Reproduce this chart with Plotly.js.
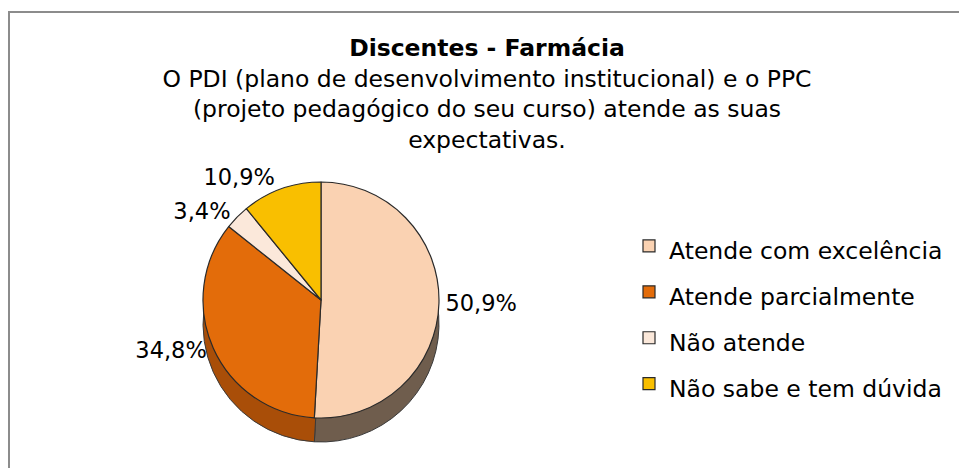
<!DOCTYPE html>
<html>
<head>
<meta charset="utf-8">
<script src="https://cdn.plot.ly/plotly-3.0.1.min.js"></script>
<style>
  html, body { margin: 0; padding: 0; background: #ffffff; }
  #chart { width: 959px; height: 468px; }
</style>
</head>
<body>
<div id="chart"></div>
<script>
// ---- data ----
const categories = ['Atende com excelência', 'Atende parcialmente', 'Não atende', 'Não sabe e tem dúvida'];
const values = [50.9, 34.8, 3.4, 10.9];
const sliceColors = ['#FAD2B2', '#E36C0A', '#FBE8DA', '#F9BF00'];
const sideColors = ['#6F5D4D', '#A94E08', '#C9B8AA', '#C79800'];
const titleText = '<b>Discentes - Farmácia</b><br>O PDI (plano de desenvolvimento institucional) e o PPC<br>(projeto pedagógico do seu curso) atende as suas<br>expectativas.';

// ---- layout geometry (pixels) ----
const W = 959, H = 468;
const cx = 321, cy = 300, R = 118, depth = 24;
function dom(cxp, cyp, r) {
  return { x: [(cxp - r) / W, (cxp + r) / W], y: [1 - (cyp + r) / H, 1 - (cyp - r) / H] };
}
const FONT = 'DejaVu Sans, sans-serif';
const legendLabels = categories.map(c => '<span style="font-size:23.5px">' + c + '</span>');

const depthTrace = {
  type: 'pie',
  labels: legendLabels,
  values: values,
  sort: false,
  direction: 'clockwise',
  rotation: 0,
  domain: dom(cx, cy + depth, R),
  marker: { colors: sideColors, line: { color: '#3a3a3a', width: 1 } },
  textinfo: 'none',
  hoverinfo: 'skip',
  showlegend: false
};

const topTrace = {
  type: 'pie',
  labels: legendLabels,
  values: values,
  sort: false,
  direction: 'clockwise',
  rotation: 0,
  domain: dom(cx, cy, R),
  marker: { colors: sliceColors, line: { color: '#2a2a2a', width: 1.2 } },
  texttemplate: '%{value:.1f}%',
  textposition: 'outside',
  outsidetextfont: { family: FONT, size: 22.5, color: '#000000' },
  hoverinfo: 'percent'
};

const layout = {
  width: W,
  height: H,
  margin: { l: 0, r: 0, t: 0, b: 0 },
  paper_bgcolor: '#ffffff',
  separators: ',.',
  font: { family: FONT, color: '#000000' },
  title: {
    text: titleText,
    font: { family: FONT, size: 23.5, color: '#000000' },
    x: 487 / W,
    xanchor: 'center',
    y: 1 - 56 / H,
    yanchor: 'top'
  },
  legend: {
    x: 629 / W,
    xanchor: 'left',
    y: 1 - 315 / H,
    yanchor: 'middle',
    font: { family: FONT, size: 33, color: '#000000' },
    bgcolor: 'rgba(0,0,0,0)'
  },
  shapes: [{
    type: 'rect', xref: 'paper', yref: 'paper',
    x0: 9 / W, x1: 1.05, y0: -0.05, y1: 1 - 12 / H,
    line: { color: '#8c8c8c', width: 2 },
    fillcolor: 'rgba(0,0,0,0)',
    layer: 'below'
  }]
};

Plotly.newPlot('chart', [depthTrace, topTrace], layout, { displayModeBar: false, staticPlot: true });
</script>
</body>
</html>
